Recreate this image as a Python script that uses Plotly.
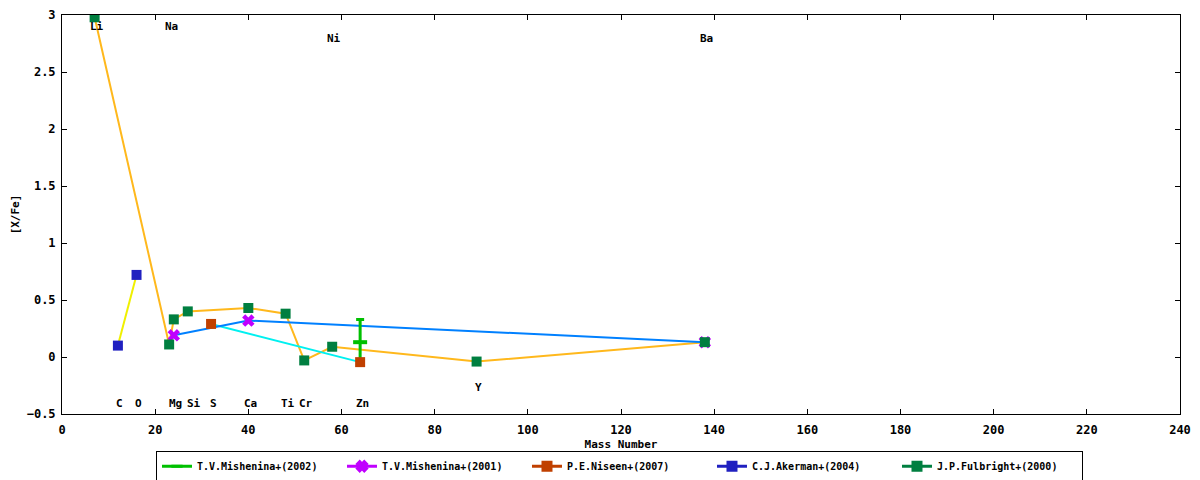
import plotly.graph_objects as go

# Fulbright+(2000)
ful_x = [7, 23, 24, 27, 40, 48, 52, 58, 89, 138]
ful_y = [2.98, 0.11, 0.33, 0.40, 0.43, 0.38, -0.03, 0.09, -0.04, 0.13]
# Akerman+(2004)
ake_x = [12, 16]
ake_y = [0.10, 0.72]
# Niseen+(2007)
nis_x = [32, 64]
nis_y = [0.29, -0.045]
# Mishenina+(2001)
m01_x = [24, 40, 138]
m01_y = [0.19, 0.32, 0.13]
# Mishenina+(2002)
m02_x = [64]
m02_y = [0.13]
m02_err = [0.20]

# element labels
elem_names = ["Li", "Na", "Ni", "Ba", "C", "O", "Mg", "Si", "S", "Ca", "Ti", "Cr", "Zn", "Y"]
elem_x = [7, 23, 58, 138, 12, 16, 24, 28, 32, 40, 48, 52, 64, 89]
elem_y = [2.9, 2.9, 2.79, 2.79, -0.41, -0.41, -0.41, -0.41, -0.41, -0.41, -0.41, -0.41, -0.41, -0.27]

FONT = "DejaVu Sans Mono"
M02_GREEN = "#00c000"

fig = go.Figure()

# connecting lines (drawn in their own colours)
fig.add_trace(go.Scatter(x=ful_x, y=ful_y, mode="lines", line=dict(color="#ffb81c", width=2),
                         showlegend=False, hoverinfo="skip"))
fig.add_trace(go.Scatter(x=ake_x, y=ake_y, mode="lines", line=dict(color="#f0f000", width=2),
                         showlegend=False, hoverinfo="skip"))
fig.add_trace(go.Scatter(x=nis_x, y=nis_y, mode="lines", line=dict(color="#00f0f0", width=2),
                         showlegend=False, hoverinfo="skip"))
fig.add_trace(go.Scatter(x=m01_x, y=m01_y, mode="lines", line=dict(color="#0080ff", width=2),
                         showlegend=False, hoverinfo="skip"))

# points
fig.add_trace(go.Scatter(x=m02_x, y=m02_y, mode="markers",
                         error_y=dict(type="data", array=m02_err, color=M02_GREEN, thickness=3, width=4),
                         marker=dict(symbol="line-ew-open", size=10, color=M02_GREEN,
                                     line=dict(color=M02_GREEN, width=4)),
                         showlegend=False))
fig.add_trace(go.Scatter(x=m01_x, y=m01_y, mode="markers",
                         marker=dict(symbol="x", size=11, color="#c000ff", line=dict(width=0)),
                         showlegend=False))
fig.add_trace(go.Scatter(x=nis_x, y=nis_y, mode="markers",
                         marker=dict(symbol="square", size=10, color="#c04000"),
                         showlegend=False))
fig.add_trace(go.Scatter(x=ake_x, y=ake_y, mode="markers",
                         marker=dict(symbol="square", size=10, color="#2020c0"),
                         showlegend=False))
fig.add_trace(go.Scatter(x=ful_x, y=ful_y, mode="markers",
                         marker=dict(symbol="square", size=10, color="#007f40"),
                         showlegend=False))

# legend entries
legend_names = ["T.V.Mishenina+(2002)", "T.V.Mishenina+(2001)", "P.E.Niseen+(2007)",
                "C.J.Akerman+(2004)", "J.P.Fulbright+(2000)"]
legend_colors = [M02_GREEN, "#c000ff", "#c04000", "#2020c0", "#007f40"]
legend_symbols = ["line-ew-open", "x", "square", "square", "square"]
for name, col, sym in zip(legend_names, legend_colors, legend_symbols):
    fig.add_trace(go.Scatter(x=[None], y=[None], mode="lines+markers", name=name,
                             line=dict(color=col, width=3),
                             marker=dict(symbol=sym, size=8, color=col, line=dict(color=col, width=3))))

for n, x, y in zip(elem_names, elem_x, elem_y):
    fig.add_annotation(x=x, y=y, text=n, showarrow=False, xshift=2,
                       font=dict(family=FONT, size=11, color="black", weight="bold"))

axis_common = dict(showline=True, linecolor="black", linewidth=1, mirror="allticks",
                   ticks="inside", ticklen=5, tickcolor="black", showgrid=False, zeroline=False,
                   automargin=False, ticklabeloverflow="allow",
                   tickfont=dict(family=FONT, size=12, color="black", weight="bold"))
fig.update_xaxes(range=[0, 240], dtick=20, tick0=0, ticklabelstandoff=5,
                 title=dict(text="Mass Number", standoff=4,
                            font=dict(family=FONT, size=11, color="black", weight="bold")),
                 **axis_common)
fig.update_yaxes(range=[-0.5, 3], dtick=0.5, tick0=0, ticklabelstandoff=3,
                 title=dict(text="[X/Fe]", standoff=4,
                            font=dict(family=FONT, size=11, color="black", weight="bold")),
                 **axis_common)

# the page puts the figure 8px in from the top-left corner
fig.update_layout(
    width=1192, height=472,
    margin=dict(l=54, r=20, t=7, b=66),
    paper_bgcolor="white", plot_bgcolor="white",
    legend=dict(orientation="h", x=0.513, xanchor="center", xref="container",
                y=0.062, yanchor="top", yref="container",
                bordercolor="black", borderwidth=1, bgcolor="white",
                entrywidth=140, itemwidth=30, tracegroupgap=0,
                font=dict(family=FONT, size=10, color="black", weight="bold")),
)

fig.write_html("out.html")
